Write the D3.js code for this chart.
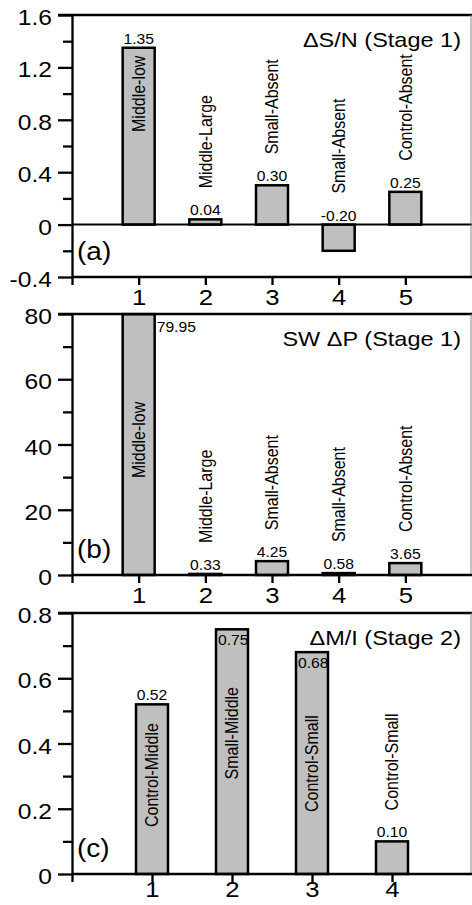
<!DOCTYPE html>
<html>
<head>
<meta charset="utf-8">
<script src="https://cdn.jsdelivr.net/npm/d3@7"></script>
<style>
body { margin: 0; background: #fff; }
text { font-family: "Liberation Sans", Arial, Helvetica, sans-serif; fill: #000; }
</style>
</head>
<body>
<svg id="chart" width="472" height="905"></svg>
<script>
// panel (a) : delta S/N, stage 1
var aCats = [1, 2, 3, 4, 5];
var aValues = [1.35, 0.04, 0.30, -0.20, 0.25];
var aNames = ['Middle-low', 'Middle-Large', 'Small-Absent', 'Small-Absent', 'Control-Absent'];
var aMajor = [-0.4, 0, 0.4, 0.8, 1.2, 1.6];
var aMinor = [-0.2, 0.2, 0.6, 1.0, 1.4];
var aXTicks = [0, 1, 2, 3, 4, 5];

// panel (b) : SW delta P, stage 1
var bCats = [1, 2, 3, 4, 5];
var bValues = [79.95, 0.33, 4.25, 0.58, 3.65];
var bNames = ['Middle-low', 'Middle-Large', 'Small-Absent', 'Small-Absent', 'Control-Absent'];
var bMajor = [0, 20, 40, 60, 80];
var bMinor = [10, 30, 50, 70];
var bXTicks = [0, 1, 2, 3, 4, 5];

// panel (c) : delta M/I, stage 2
var cCats = [1, 2, 3, 4];
var cValues = [0.52, 0.75, 0.68, 0.10];
var cNames = ['Control-Middle', 'Small-Middle', 'Control-Small', 'Control-Small'];
var cMajor = [0, 0.2, 0.4, 0.6, 0.8];
var cMinor = [0.1, 0.3, 0.5, 0.7];
var cXTicks = [0, 1, 2, 3, 4];

var titles = ['\u0394S/N (Stage 1)', 'SW \u0394P (Stage 1)', '\u0394M/I (Stage 2)'];
var letters = ['(a)', '(b)', '(c)'];

// layout (pixels / where the labels sit)
var stretch = 1.12;   // the original figure is a bit wider than tall
var barW = 32;
var layouts = [
  {top: 15,  bottom: 277, xMax: 6, labelY: 28, valuePos: ['above', 'above', 'above', 'above', 'above'], nameAt: [0.707, null, null, null, null]},
  {top: 314, bottom: 575, xMax: 6, labelY: 28, valuePos: ['right', 'above', 'above', 'above', 'above'], nameAt: [29.7, null, null, null, null]},
  {top: 613, bottom: 874, xMax: 5, labelY: 23, valuePos: ['above', 'inside', 'inside', 'above'], nameAt: [0.144, 0.29, 0.19, null]}
];

var svg = d3.select('#chart');

function tickText(v) {
  return String(v);
}

function drawPanel(k, cats, values, names, major, minor, xticks) {
  var L = layouts[k];
  var g = svg.append('g');
  var x = d3.scaleLinear().domain([0, L.xMax]).range([72, 472]);
  var y = d3.scaleLinear().domain([major[0], major[major.length - 1]]).range([L.bottom, L.top]);

  //bars
  g.selectAll('rect.bar').data(values).enter().append('rect')
    .attr('class', 'bar')
    .attr('x', function (d, i) { return x(cats[i]) - barW / 2; })
    .attr('y', function (d) { return y(Math.max(d, 0)); })
    .attr('width', barW)
    .attr('height', function (d) { return Math.abs(y(d) - y(0)); })
    .attr('fill', '#bfbfbf')
    .attr('stroke', '#000')
    .attr('stroke-width', 2.5);

  //value labels
  function valueBase(d, i) {
    var m = L.valuePos[i];
    if (m == 'right') return y(d) + 17.5;
    if (m == 'inside') return y(d) + 16;
    return y(Math.max(d, 0)) - 4;
  }
  g.selectAll('text.val').data(values).enter().append('text')
    .attr('class', 'val')
    .attr('font-size', 14)
    .attr('text-anchor', function (d, i) { return L.valuePos[i] == 'above' ? 'middle' : 'start'; })
    .attr('transform', function (d, i) {
      var m = L.valuePos[i], px = x(cats[i]);
      if (m == 'right') px = x(cats[i]) + barW / 2 + 2;
      if (m == 'inside') px = x(cats[i]) - barW / 2 + 2;
      return 'translate(' + px + ',' + valueBase(d, i) + ') scale(' + stretch + ',1)';
    })
    .text(function (d) { return d.toFixed(2); });

  //rotated names
  g.selectAll('text.name').data(names).enter().append('text')
    .attr('class', 'name')
    .attr('font-size', 16)
    .attr('dy', '0.35em')
    .attr('transform', function (d, i) {
      var py = L.nameAt[i] != null ? y(L.nameAt[i]) : valueBase(values[i], i) - 27;
      return 'translate(' + x(cats[i]) + ',' + py + ') scale(' + stretch + ',1) rotate(-90)';
    })
    .text(function (d) { return d; });

  //zero line when the axis goes negative
  if (major[0] < 0) {
    g.append('line').attr('x1', 72).attr('x2', 472).attr('y1', y(0)).attr('y2', y(0))
      .attr('stroke', '#000').attr('stroke-width', 2);
  }

  //top border and right frame
  g.append('line').attr('x1', 58).attr('x2', 472).attr('y1', L.top).attr('y2', L.top)
    .attr('stroke', '#000').attr('stroke-width', 2.3);
  g.append('line').attr('x1', 471).attr('x2', 471).attr('y1', L.top).attr('y2', L.bottom)
    .attr('stroke', '#888').attr('stroke-width', 1);

  //y axis
  var yAxis = g.append('g').attr('transform', 'translate(72,0)')
    .call(d3.axisLeft(y).tickValues(major).tickSize(14).tickSizeOuter(0).tickFormat(tickText));
  yAxis.selectAll('text')
    .attr('font-size', 22)
    .attr('font-family', '"Liberation Sans", Arial, sans-serif')
    .attr('fill', '#000')
    .attr('dy', null)
    .attr('y', 9.5)
    .attr('x', -20 / stretch)
    .attr('transform', 'scale(' + stretch + ',1)');
  var yMinor = g.append('g').attr('transform', 'translate(72,0)')
    .call(d3.axisLeft(y).tickValues(minor).tickSize(9).tickSizeOuter(0).tickFormat(''));
  yMinor.select('.domain').remove();
  [yAxis, yMinor].forEach(function (a) {
    a.selectAll('line').attr('stroke', '#000').attr('stroke-width', 2.3);
    a.selectAll('.domain').attr('stroke', '#000').attr('stroke-width', 2.3);
  });

  //x axis
  var xAxis = g.append('g').attr('transform', 'translate(0,' + L.bottom + ')')
    .call(d3.axisBottom(x).tickValues(xticks).tickSize(8).tickSizeOuter(0)
      .tickFormat(function (d) { return d === 0 ? '' : d; }));
  xAxis.select('.domain').attr('d', 'M72,0H472').attr('stroke', '#000').attr('stroke-width', 2.3);
  xAxis.selectAll('line').attr('stroke', '#000').attr('stroke-width', 2.3);
  xAxis.selectAll('text')
    .attr('font-size', 23)
    .attr('font-family', '"Liberation Sans", Arial, sans-serif')
    .attr('fill', '#000')
    .attr('dy', null)
    .attr('y', L.labelY)
    .attr('transform', 'scale(' + stretch + ',1)');

  //title and panel letter
  g.append('text').attr('font-size', 21).attr('text-anchor', 'end')
    .attr('transform', 'translate(461,' + (L.top + 32) + ') scale(' + stretch + ',1)')
    .text(titles[k]);
  g.append('text').attr('font-size', 25)
    .attr('transform', 'translate(77,' + (L.bottom - 17) + ') scale(' + stretch + ',1)')
    .text(letters[k]);
}

drawPanel(0, aCats, aValues, aNames, aMajor, aMinor, aXTicks);
drawPanel(1, bCats, bValues, bNames, bMajor, bMinor, bXTicks);
drawPanel(2, cCats, cValues, cNames, cMajor, cMinor, cXTicks);
</script>
</body>
</html>
